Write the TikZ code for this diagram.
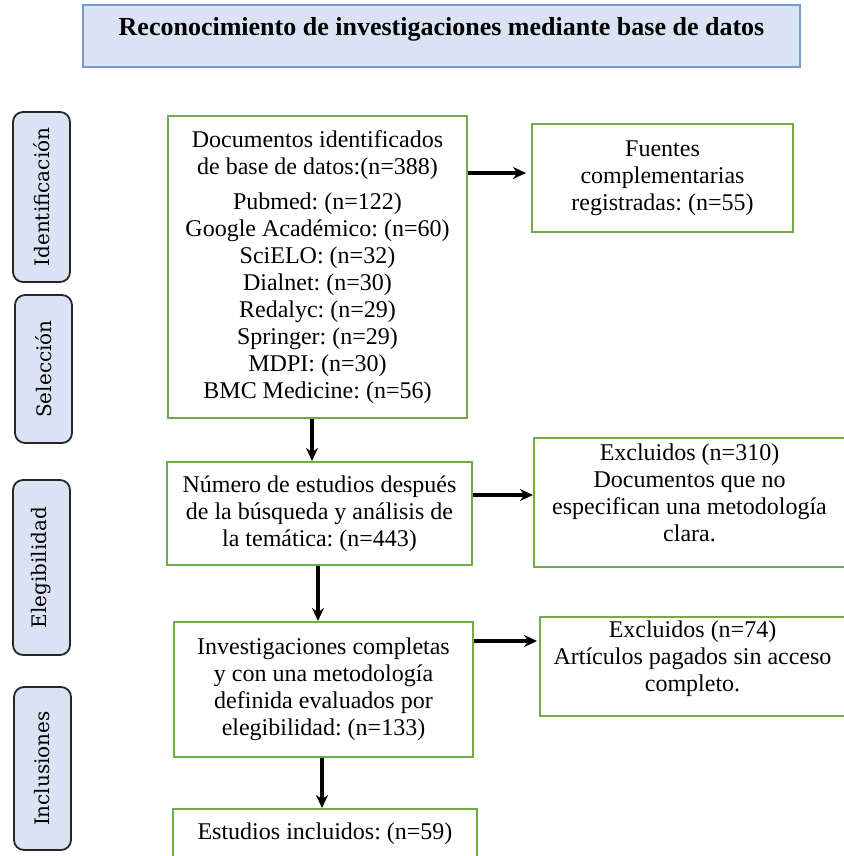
\documentclass[tikz,border=0pt]{standalone}
\usepackage{fontspec}
\setmainfont{Liberation Serif}
\newfontfamily\docfont{Liberation Serif}
\newfontfamily\slabfont{DejaVu Serif}
\usepackage{tikz}
\usetikzlibrary{arrows.meta,positioning}
\definecolor{boxgreen}{RGB}{112,173,71}
\definecolor{paleblue}{RGB}{218,227,243}
\definecolor{titleblue}{RGB}{120,155,212}
\frenchspacing

\begin{document}
\begin{tikzpicture}[x=0.5pt,y=-0.5pt,>={Stealth[length=6.5pt,width=6pt]},
  stage/.style={draw=boxgreen,line width=1pt,fill=white,align=center,inner sep=2pt,font=\docfont\fontsize{12}{13.5}\selectfont},
  phase/.style={draw=black!85,line width=0.9pt,fill=paleblue,rounded corners=5pt,rotate=90,minimum height=28.5pt,font=\slabfont\fontsize{10}{12}\selectfont},
  flow/.style={->,line width=2pt}]
  \useasboundingbox (0,0) rectangle (843,856);
  \node[draw=titleblue,line width=1pt,fill=paleblue,minimum width=358.5pt,minimum height=31pt,text height=9pt,text depth=9pt,font=\docfont\bfseries\fontsize{13}{15}\selectfont] (title) at (441.5,36) {Reconocimiento de investigaciones mediante base de datos};
  % fases
  \node[phase,minimum width=85pt] (ident) at (41.5,197) {Identificación};
  \node[phase,minimum width=74pt] (selec) at (43.5,369) {Selección};
  \node[phase,minimum width=87.5pt] (elegi) at (41.5,567.5) {Elegibilidad};
  \node[phase,minimum width=81.5pt] (inclu) at (42.5,768.5) {Inclusiones};
  % flujo principal
  \node[stage,minimum width=149.5pt,minimum height=151pt] (docs) at (317.5,267) {Documentos identificados\\de base de datos:(n=388)\\[4pt]Pubmed: (n=122)\\Google Académico: (n=60)\\SciELO: (n=32)\\Dialnet: (n=30)\\Redalyc: (n=29)\\Springer: (n=29)\\MDPI: (n=30)\\BMC Medicine: (n=56)};
  \node[stage,minimum width=152.5pt,minimum height=51.5pt] (estudios) at (319.5,513.5) {Número de estudios después\\de la búsqueda y análisis de\\la temática: (n=443)};
  \node[stage,minimum width=149.5pt,minimum height=67.5pt] (revision) at (323.5,689.5) {Investigaciones completas\\y con una metodología\\definida evaluados por\\elegibilidad: (n=133)};
  \node[stage,minimum width=152pt,minimum height=25pt] (incl) at (325,834) {Estudios incluidos: (n=59)};
  % ramas
  \node[stage,minimum width=130.5pt,minimum height=54pt] (fuentes) at (662.5,178) {Fuentes\\complementarias\\registradas: (n=55)};
  \node[stage,minimum width=155.5pt,minimum height=64.5pt] (excl1) at (689.5,502.5) {Excluidos (n=310)\\Documentos que no\\especifican una metodología\\clara.\\[-3.5pt]\mbox{}};
  \node[stage,minimum width=152.5pt,minimum height=49.5pt] (excl2) at (692.5,666.5) {Excluidos (n=74)\\Artículos pagados sin acceso\\completo.\\[-3pt]\mbox{}};
  \draw[flow] ([xshift=-2.75pt]docs.south) -- ([xshift=-2.75pt]docs.south |- estudios.north);
  \draw[flow] ([xshift=-0.75pt]estudios.south) -- ([xshift=-0.75pt]estudios.south |- revision.north);
  \draw[flow] ([xshift=-0.75pt]revision.south) -- ([xshift=-0.75pt]revision.south |- incl.north);
  \draw[flow,shorten >=2.5pt] ([yshift=47pt]docs.east) -- ([yshift=47pt]docs.east -| fuentes.west);
  \draw[flow] ([yshift=9.25pt]estudios.east) -- ([yshift=9.25pt]estudios.east -| excl1.west);
  \draw[flow,shorten >=1pt] ([yshift=24.25pt]revision.east) -- ([yshift=24.25pt]revision.east -| excl2.west);
\end{tikzpicture}
\end{document}
